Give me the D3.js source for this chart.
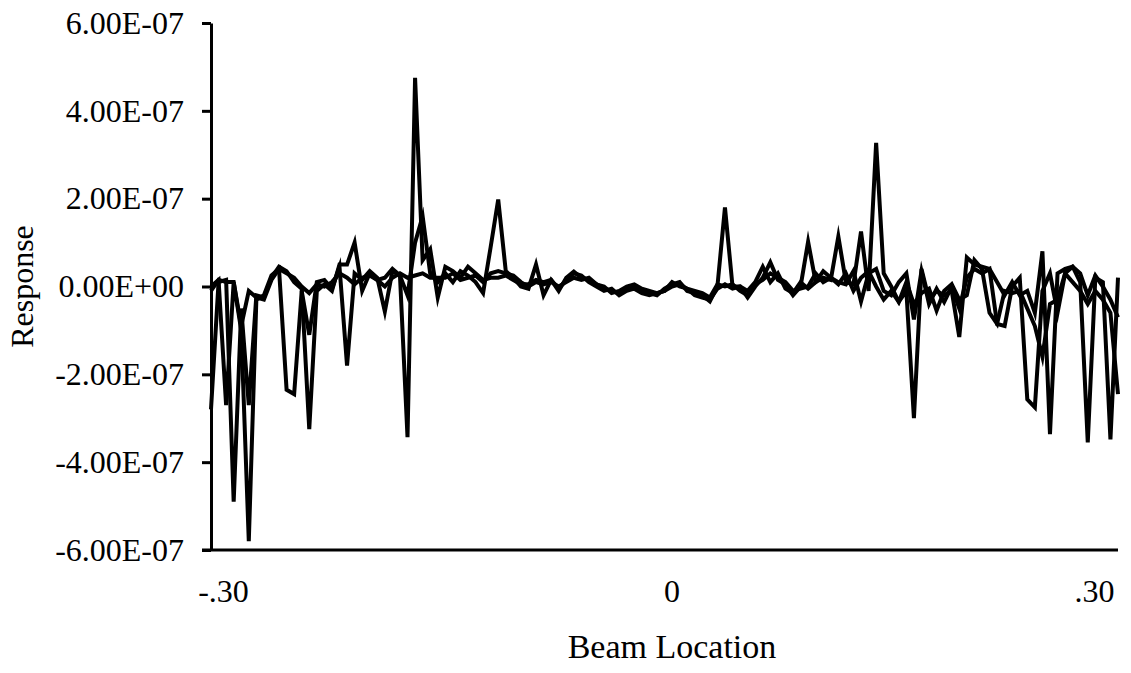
<!DOCTYPE html>
<html>
<head>
<meta charset="utf-8">
<script src="https://cdn.jsdelivr.net/npm/d3@7"></script>
<style>
  body { margin: 0; background: #fff; }
  svg { display: block; }
  text { font-family: "Liberation Serif", "Times New Roman", serif; fill: #000; }
  .line { fill: none; stroke: #000; stroke-width: 4; stroke-linejoin: miter; stroke-miterlimit: 6; }
</style>
</head>
<body>
<svg width="1131" height="673"></svg>
<script>
// beam location, -0.30 .. 0.30 in 121 steps
var locations = d3.range(121).map(function (i) { return +(-0.30 + i * 0.005).toFixed(3); });

// responses, in units of 1e-7
var seriesA = [
  -2.8, 0.1, 0.15, -4.9, -0.5, -2.7, -0.2, -0.25, 0.2, 0.45,
  0.35, 0.1, -0.05, -3.25, -0.1, 0.05, -0.1, 0.5, 0.5, 1.0,
  -0.1, 0.3, 0.15, 0.2, 0.4, 0.25, -3.43, 4.75, 0.6, 0.85,
  -0.25, 0.45, 0.35, 0.2, 0.45, 0.3, 0.15, 0.2, 0.2, 0.25,
  0.15, 0.05, 0.05, 0.15, 0.1, 0.15, -0.1, 0.2, 0.34, 0.2,
  0.15, 0.05, -0.05, -0.1, -0.15, -0.05, 0.0, -0.1, -0.15, -0.2,
  -0.05, 0.05, 0.1, -0.1, -0.15, -0.2, -0.34, 0.0, 1.8, 0.0,
  0.0, -0.25, 0.0, 0.2, 0.55, 0.15, 0.05, -0.2, 0.0, 1.02,
  0.1, 0.2, 0.15, 1.14, 0.1, 0.05, 1.25, -0.1, 3.27, 0.3,
  0.0, -0.35, -0.1, -3.0, 0.4, -0.3, -0.1, -0.2, -0.1, -1.15,
  0.66, 0.5, 0.45, 0.4, 0.1, -0.2, 0.1, -0.2, -0.1, -0.6,
  0.8, -3.36, 0.3, 0.4, 0.45, 0.1, -3.55, 0.2, 0.1, -3.48,
  0.2
];
var seriesB = [
  0.0, 0.15, -2.7, 0.1, -1.0, -5.8, -0.3, -0.2, 0.25, 0.4,
  -2.35, -2.45, -0.1, -1.1, 0.1, 0.15, -0.05, 0.45, -1.8, 0.3,
  0.15, 0.35, 0.2, -0.57, 0.35, 0.25, -0.2, 1.0, 1.6, 0.3,
  0.1, 0.3, 0.1, 0.35, 0.25, 0.1, -0.15, 0.9, 1.98, 0.35,
  0.2, 0.0, -0.05, 0.5, -0.2, 0.15, -0.05, 0.15, 0.3, 0.25,
  0.1, 0.0, -0.1, -0.05, -0.2, -0.1, -0.05, -0.15, -0.2, -0.15,
  -0.1, 0.1, 0.0, -0.05, -0.2, -0.25, -0.3, -0.05, 0.05, -0.05,
  0.0, -0.1, 0.1, 0.45, 0.1, 0.3, -0.05, -0.15, 0.1, -0.05,
  0.1, 0.35, 0.2, 0.1, 0.05, 0.35, -0.34, 0.3, 0.4, -0.1,
  -0.2, 0.1, 0.3, -0.75, 0.35, -0.4, -0.05, -0.35, 0.0, -0.5,
  0.2, 0.4, 0.3, 0.4, -0.85, -0.9, 0.0, 0.2, -2.57, -2.75,
  -0.1, 0.3, -0.6, 0.3, 0.1, -0.1, -0.4, -0.1, -0.3, -0.6,
  -2.45
];
var seriesC = [
  -0.1, 0.15, 0.1, 0.1, -0.9, -0.1, -0.25, -0.3, 0.15, 0.4,
  0.3, 0.2, 0.0, -0.15, 0.05, 0.0, 0.1, 0.3, 0.2, 0.05,
  0.2, 0.25, 0.15, 0.0, 0.2, 0.3, 0.2, 0.25, 0.3, 0.2,
  0.2, 0.2, 0.3, 0.15, 0.2, 0.25, 0.1, 0.3, 0.35, 0.3,
  0.25, 0.1, 0.0, 0.1, 0.05, 0.1, 0.0, 0.1, 0.2, 0.15,
  0.2, 0.05, 0.0, -0.15, -0.1, 0.0, 0.05, -0.05, -0.1, -0.15,
  -0.1, 0.0, 0.05, -0.05, -0.1, -0.15, -0.25, 0.05, 0.0, 0.05,
  -0.1, -0.2, 0.05, 0.15, 0.3, 0.2, 0.1, -0.1, -0.05, 0.0,
  0.3, 0.1, 0.2, 0.05, 0.3, -0.1, 0.2, 0.35, 0.0, -0.3,
  -0.1, -0.35, 0.1, -0.4, -0.15, -0.05, -0.55, -0.1, 0.05, -0.3,
  -0.2, 0.6, 0.4, -0.6, -0.85, -0.1, -0.15, -0.1, -0.5, -0.9,
  -1.6, -0.4, -0.3, 0.3, 0.45, 0.3, -0.2, 0.25, 0.0, -0.3,
  -0.7
];

var yTicks = [-6e-7, -4e-7, -2e-7, 0, 2e-7, 4e-7, 6e-7];
var xTicks = [-0.30, 0, 0.30];
var xTickLabels = ["-.30", "0", ".30"];

var svg = d3.select("svg"),
    margin = {top: 23, right: 13, bottom: 123, left: 211},
    width = +svg.attr("width") - margin.left - margin.right,
    height = +svg.attr("height") - margin.top - margin.bottom,
    g = svg.append("g").attr("transform", "translate(" + margin.left + "," + margin.top + ")");

var x = d3.scaleLinear()
    .domain([-0.30, 0.30])
    .range([0, width]);

var y = d3.scaleLinear()
    .domain([-6e-7, 6e-7])
    .range([height, 0]);

var line = d3.line()
    .x(function (d) { return x(d.loc); })
    .y(function (d) { return y(d.val * 1e-7); });

[seriesA, seriesB, seriesC].forEach(function (s) {
  var pts = s.map(function (v, i) { return {loc: locations[i], val: v}; });
  g.append("path")
    .datum(pts)
    .attr("class", "line")
    .attr("d", line);
});

// x axis: plain line, labels only
var xAxis = g.append("g")
    .attr("transform", "translate(0," + height + ")")
    .call(d3.axisBottom(x).tickValues(xTicks).tickSize(0).tickPadding(29)
      .tickFormat(function (d, i) { return xTickLabels[i]; }));
xAxis.select(".domain").attr("stroke", "#000").attr("stroke-width", 3).attr("d", "M-9,0H" + width);
xAxis.selectAll(".tick text")
    .attr("font-size", 32)
    .attr("font-family", "Liberation Serif")
    .attr("dx", function (d, i) { return [12, 7, -24][i]; });

var fmt = d3.formatLocale({decimal: ".", thousands: ",", grouping: [3], currency: ["", ""], minus: "-"}).format(".2e");
var yAxis = g.append("g")
    .call(d3.axisLeft(y).tickValues(yTicks).tickSize(9).tickSizeOuter(0).tickPadding(18)
      .tickFormat(function (d) {
        var s = fmt(d).replace("e", "E");
        return s.replace(/E([+-])(\d)$/, "E$10$2");
      }));
yAxis.select(".domain").attr("stroke", "#000").attr("stroke-width", 3);
yAxis.selectAll(".tick line").attr("stroke", "#000").attr("stroke-width", 3);
yAxis.selectAll(".tick text")
    .attr("font-size", 32)
    .attr("font-family", "Liberation Serif");

svg.append("text")
    .attr("transform", "translate(33," + (margin.top + y(0)) + ") rotate(-90)")
    .attr("text-anchor", "middle")
    .attr("font-size", 32)
    .text("Response");

svg.append("text")
    .attr("x", 672)
    .attr("y", 658)
    .attr("text-anchor", "middle")
    .attr("font-size", 34)
    .text("Beam Location");
</script>
</body>
</html>
